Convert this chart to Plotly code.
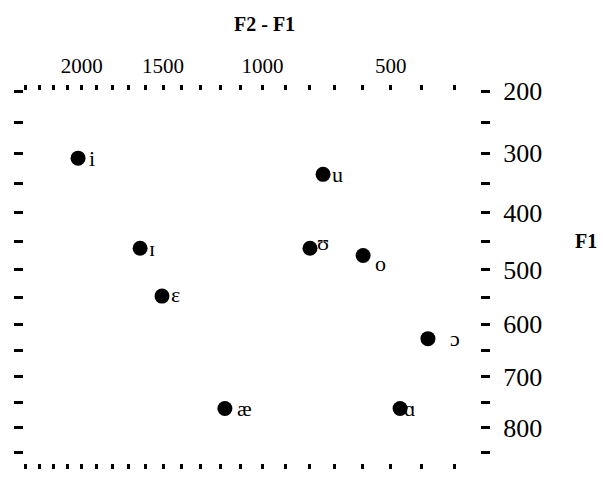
import numpy as np
import plotly.graph_objects as go

# ---- data ----
vowels = ["i", "ɪ", "ɛ", "æ", "ɑ", "ɔ", "o", "ʊ", "u"]
f2_minus_f1 = [2025, 1632, 1506, 1176, 469, 380, 596, 798, 746]
f1 = [308, 462, 548, 762, 762, 627, 475, 462, 335]

x_tick_values = list(range(2400, 299, -100))
x_tick_labels = ["2000", "1500", "1000", "500"]
y_tick_values = list(range(200, 851, 50))
y_tick_labels = ["200", "300", "400", "500", "600", "700", "800"]


# ---- the chart's warped (auditory-like) frequency scales ----
def fx(v):
    return np.log1p(np.asarray(v, dtype=float) / 1000.0)


def fy(v):
    return np.log1p(np.asarray(v, dtype=float) / 2000.0)


serif = "Liberation Serif"

# label offsets (style)
label_dx = [17, 15, 15, 18, 10, 28, 18, 13, 15]
label_dy = [0, 0, 2, 0, 0, 0, -8, 6, 0]

fig = go.Figure(
    go.Scatter(
        x=fx(f2_minus_f1),
        y=fy(f1),
        mode="markers",
        marker=dict(size=15, color="black"),
        cliponaxis=False,
        hoverinfo="skip",
    )
)

for xv, yv, lab, dx, dy in zip(f2_minus_f1, f1, vowels, label_dx, label_dy):
    fig.add_annotation(
        x=float(fx(xv)), y=float(fy(yv)), text=lab, showarrow=False,
        xanchor="left", yanchor="middle", xshift=dx - 8, yshift=dy,
        font=dict(family=serif, size=22, color="black"),
    )

fig.add_annotation(
    xref="paper", yref="paper", x=0.528, y=1.18, text="<b>F2 - F1</b>",
    showarrow=False, xanchor="center", yanchor="middle",
    font=dict(family=serif, size=20, color="black"),
)
fig.add_annotation(
    xref="paper", yref="paper", x=1.204, y=0.598, text="<b>F1</b>",
    showarrow=False, xanchor="left", yanchor="middle",
    font=dict(family=serif, size=20, color="black"),
)

fig.update_layout(
    width=603, height=478,
    margin=dict(l=24, r=123, t=91, b=15),
    paper_bgcolor="white", plot_bgcolor="white",
    showlegend=False,
    xaxis=dict(
        side="top", range=[1.2282, 0.2053],
        tickmode="array", tickvals=fx(x_tick_values).tolist(),
        ticktext=[str(v) if str(v) in x_tick_labels else "" for v in x_tick_values],
        ticks="outside", ticklen=5, tickwidth=3, tickcolor="black",
        mirror="ticks", showline=False, showgrid=False, zeroline=False,
        ticklabelstandoff=4,
        tickfont=dict(family=serif, size=21, color="black"),
    ),
    yaxis=dict(
        side="right", range=[float(fy(872)), float(fy(199.5))],
        tickmode="array", tickvals=fy(y_tick_values).tolist(),
        ticktext=[str(v) if str(v) in y_tick_labels else "" for v in y_tick_values],
        ticks="outside", ticklen=9, tickwidth=3, tickcolor="black",
        mirror="ticks", showline=False, showgrid=False, zeroline=False,
        ticklabelstandoff=8,
        tickfont=dict(family=serif, size=26, color="black"),
    ),
)

fig.write_html(
    "out.html",
    config={"displayModeBar": False},
    post_script="document.body.style.margin='0';",
)
